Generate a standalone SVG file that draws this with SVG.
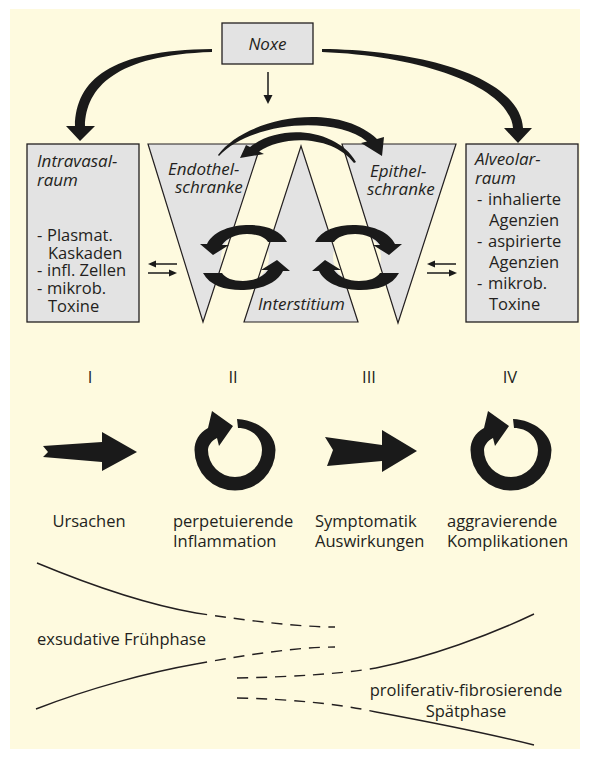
<svg xmlns="http://www.w3.org/2000/svg" width="590" height="759" viewBox="0 0 590 759">
  <style>
    text { font-family: "Open Sans", "Noto Sans", "Liberation Sans", sans-serif; font-size: 16.5px; fill: #231f20; }
    .it { font-style: italic; font-size: 17px; }
    .box { fill: #e3e3e3; stroke: #231f20; stroke-width: 1.3; }
    .tfill { fill: #e3e3e3; }
    .tline { fill: none; stroke: #231f20; stroke-width: 1.2; stroke-linejoin: miter; }
    .blk { fill: #1a1a1a; }
    .thin { fill: none; stroke: #1a1a1a; stroke-width: 1.5; }
    .ln { fill: none; stroke: #231f20; stroke-width: 1.4; }
    .dash { stroke-dasharray: 11 8; }
  </style>
  <defs>
    <!-- holes for the two cycles inside the barrier triangles -->
    <mask id="cycleHoles" maskUnits="userSpaceOnUse" x="0" y="0" width="590" height="759">
      <rect x="0" y="0" width="590" height="759" fill="#fff"/>
      <circle cx="245" cy="257.5" r="24" fill="#000"/>
      <circle cx="357" cy="257.5" r="24" fill="#000"/>
    </mask>
    <!-- one crescent of a cycle, with its head -->
    <path id="crescent" d="M 287 242 C 280 229 264 224.5 246 225 C 228 225.5 212 233 207 244 L 200 244 L 213 255 L 229 245 L 222 245 C 227 238 236 234 247 234 C 257 234 265 237 268 242 Z"/>
    <!-- circular arrow of the phase row -->
    <path id="ring" d="M 237 419 C 258 420 275.5 434 275.5 450 A 40.5 40.5 0 0 1 235 490.5 A 40.5 40.5 0 0 1 194.5 450 C 194.5 441 199 433 208 428 L 212 411 L 233 426 L 219 446 L 217 438 C 211 441 208 446 208 450 A 27 27 0 0 0 235 477 A 27 27 0 0 0 262 450 C 262 437 251 428 238 428 Z"/>
  </defs>

  <rect x="0" y="0" width="590" height="759" fill="#ffffff"/>
  <rect x="10" y="9" width="570" height="740" fill="#fefadf"/>

  <!-- nodes -->
  <g id="noxe">
    <rect class="box" x="222" y="23" width="91" height="41"/>
    <text class="it" x="267.5" y="50" text-anchor="middle">Noxe</text>
  </g>

  <g id="intravasalraum">
    <rect class="box" x="27" y="144" width="112" height="178"/>
    <text class="it"><tspan x="37" y="167">Intravasal-</tspan><tspan x="37" y="186">raum</tspan></text>
    <text><tspan x="37" y="241">-</tspan><tspan x="47" y="241">Plasmat.</tspan><tspan x="48" y="258.5">Kaskaden</tspan><tspan x="37" y="276">-</tspan><tspan x="47" y="276">infl. Zellen</tspan><tspan x="37" y="294">-</tspan><tspan x="47" y="294">mikrob.</tspan><tspan x="48" y="312">Toxine</tspan></text>
  </g>

  <g id="alveolarraum">
    <rect class="box" x="466" y="144" width="112" height="178"/>
    <text class="it"><tspan x="475" y="165">Alveolar-</tspan><tspan x="475" y="184">raum</tspan></text>
    <text><tspan x="477" y="205">-</tspan><tspan x="488" y="205">inhalierte</tspan><tspan x="489" y="226">Agenzien</tspan><tspan x="477" y="247">-</tspan><tspan x="488" y="247">aspirierte</tspan><tspan x="489" y="268">Agenzien</tspan><tspan x="477" y="289">-</tspan><tspan x="488" y="289">mikrob.</tspan><tspan x="489" y="310">Toxine</tspan></text>
  </g>

  <g id="endothelschranke">
    <polygon class="tfill" points="148,144 261,144 203,322" mask="url(#cycleHoles)"/>
    <polygon class="tline" points="148,144 261,144 203,322"/>
    <text class="it"><tspan x="168" y="175">Endothel-</tspan><tspan x="175" y="193">schranke</tspan></text>
  </g>

  <g id="interstitium">
    <polygon class="tfill" points="301,146 358,322 244,322" mask="url(#cycleHoles)"/>
    <polygon class="tline" points="301,146 358,322 244,322"/>
    <text class="it" x="258" y="310">Interstitium</text>
  </g>

  <g id="epithelschranke">
    <polygon class="tfill" points="342,144 456,144 398,323" mask="url(#cycleHoles)"/>
    <polygon class="tline" points="342,144 456,144 398,323"/>
    <text class="it"><tspan x="370" y="177">Epithel-</tspan><tspan x="367" y="195">schranke</tspan></text>
  </g>

  <!-- interaction cycles between the barriers -->
  <g id="cycles">
    <g id="cycle-left">
      <use href="#crescent" class="blk"/>
      <use href="#crescent" class="blk" transform="rotate(180 245 257.5)"/>
    </g>
    <g id="cycle-right" transform="matrix(-1 0 0 1 602 0)">
      <use href="#crescent" class="blk"/>
      <use href="#crescent" class="blk" transform="rotate(180 245 257.5)"/>
    </g>
  </g>

  <!-- connectors -->
  <g id="connectors">
    <!-- Noxe to the compartments -->
    <path class="blk" d="M 212 49 C 110 50 76 80 75 126 L 66 126 L 80 141 L 95 126 L 85 126 C 86 88 115 55 212 52 Z"/>
    <path class="blk" d="M 322 49 C 425 50 520 78 523 128 L 532 128 L 518 143 L 504 128 L 513 128 C 510 88 425 56 322 52 Z"/>
    <line class="thin" x1="268" y1="72" x2="268" y2="97"/>
    <polygon class="blk" points="263.5,95 272.5,95 268,104"/>

    <!-- exchange across the barriers -->
    <path class="blk" d="M 218 155 C 245 118 335 100 377 139 L 384 137 L 382 156 L 361 143 L 367 141.5 C 335 115 250 122 219 156 Z"/>
    <path class="blk" d="M 356 162 C 338 130 282 122 250 147 L 246 145 L 240 158 L 264 154 L 259 151.5 C 284 134 334 136 354 163 Z"/>

    <!-- two-way exchange with the compartments -->
    <line class="thin" x1="177" y1="264" x2="154" y2="264"/>
    <polygon class="blk" points="148,264 156,260.5 156,267.5"/>
    <line class="thin" x1="148" y1="273" x2="171" y2="273"/>
    <polygon class="blk" points="177,273 169,269.5 169,276.5"/>
    <line class="thin" x1="456" y1="264" x2="433" y2="264"/>
    <polygon class="blk" points="427,264 435,260.5 435,267.5"/>
    <line class="thin" x1="427" y1="273" x2="450" y2="273"/>
    <polygon class="blk" points="457,273 449,269.5 449,276.5"/>
  </g>

  <!-- phases I to IV -->
  <g id="phase-1">
    <text x="90" y="383" text-anchor="middle">I</text>
    <polygon class="blk" points="43,446 48,452 43,457 102,462 102,471 137,452 102,432 102,442"/>
    <text x="89" y="527" text-anchor="middle">Ursachen</text>
  </g>
  <g id="phase-2">
    <text x="233" y="383" text-anchor="middle">II</text>
    <use href="#ring" class="blk"/>
    <text><tspan x="173" y="527">perpetuierende</tspan><tspan x="173" y="547">Inflammation</tspan></text>
  </g>
  <g id="phase-3">
    <text x="369" y="383" text-anchor="middle">III</text>
    <polygon class="blk" points="325,437 333,450 327,466 382,461 382,472 417,451 382,430 382,445"/>
    <text><tspan x="315" y="527">Symptomatik</tspan><tspan x="315" y="547">Auswirkungen</tspan></text>
  </g>
  <g id="phase-4">
    <text x="510" y="383" text-anchor="middle">IV</text>
    <use href="#ring" class="blk" transform="translate(276 0)"/>
    <text><tspan x="447" y="527">aggravierende</tspan><tspan x="447" y="547">Komplikationen</tspan></text>
  </g>

  <!-- early and late phase -->
  <g id="phase-course">
    <path class="ln" d="M 37 563 C 90 585 150 605 196 613"/>
    <path class="ln dash" d="M 196 613 C 250 621 300 627 335 627"/>
    <path class="ln" d="M 36 709 C 90 688 150 672 196 664"/>
    <path class="ln dash" d="M 196 664 C 250 654 300 647 335 647"/>
    <path class="ln dash" d="M 237 678 C 290 677 340 674 376 668"/>
    <path class="ln" d="M 376 668 C 430 657 490 635 534 614"/>
    <path class="ln dash" d="M 237 698 C 290 699 340 704 376 712"/>
    <path class="ln" d="M 376 712 C 430 722 490 734 534 745"/>
    <text x="37" y="645">exsudative Frühphase</text>
    <text text-anchor="middle"><tspan x="466" y="696">proliferativ-fibrosierende</tspan><tspan x="466" y="717">Spätphase</tspan></text>
  </g>
</svg>
